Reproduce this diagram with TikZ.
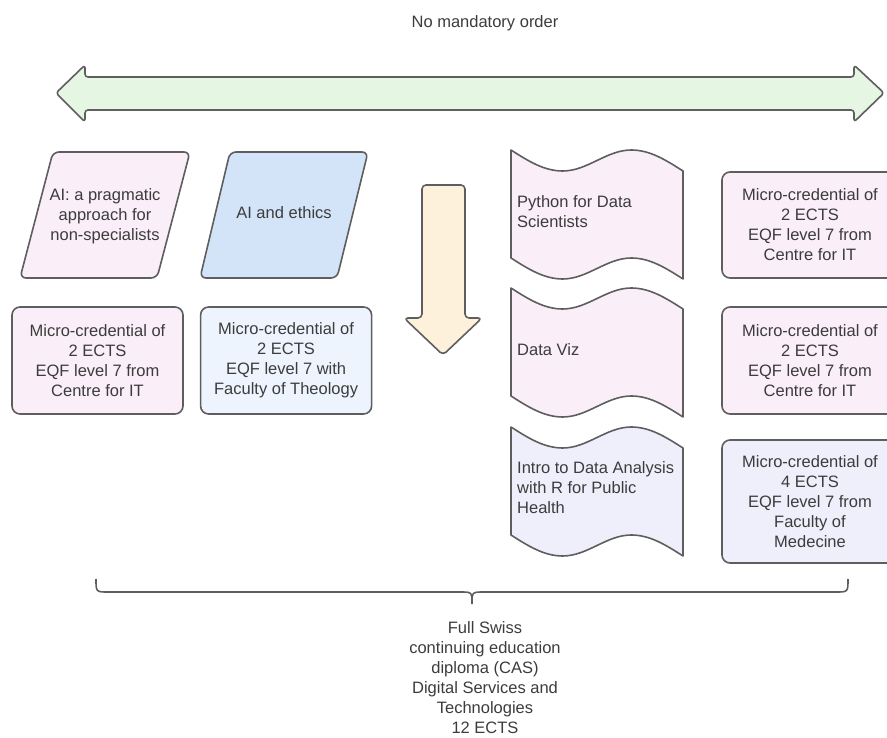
\documentclass[tikz,border=0pt]{standalone}
\usepackage{fontspec}
\setmainfont{Liberation Sans}
\usepackage{xcolor}
\usetikzlibrary{positioning}

\definecolor{linegray}{HTML}{5E5E5E}
\definecolor{txtgray}{HTML}{3C3C3C}
\definecolor{pinkfill}{HTML}{FAEEF8}
\definecolor{ethicsfill}{HTML}{D3E4F9}
\definecolor{ethicsbox}{HTML}{EEF4FE}
\definecolor{lavfill}{HTML}{EFEFFC}
\definecolor{greenfill}{HTML}{E5F6E2}
\definecolor{creamfill}{HTML}{FDF1DB}

\begin{document}
\begin{tikzpicture}[
  x=1pt, y=-1pt,
  every node/.style={font=\fontsize{16.5}{20}\selectfont, text=txtgray},
  shapeline/.style={draw=linegray, line width=1.6pt, line join=round},
  credbox/.style={shapeline, rectangle, rounded corners=8pt,
    minimum width=171pt, minimum height=107pt, align=center, inner sep=0pt},
  doctext/.style={anchor=west, align=left, inner sep=0pt},
]
\useasboundingbox (0,0) rectangle (887,738);

% Header and order arrow
\node (title) at (485,23) {No mandatory order};
\draw[shapeline, fill=greenfill, rounded corners=3pt]
  (56,93) -- (85,65) -- (85,77) -- (854,77) -- (854,65) -- (884,93)
  -- (854,122) -- (854,110) -- (85,110) -- (85,122) -- cycle;

% AI courses
\draw[shapeline, fill=pinkfill, rounded corners=6pt]
  (53,152) -- (190,152) -- (157,278) -- (20,278) -- cycle;
\node[align=center] (pragmatic) at (105,216) {AI: a pragmatic\\approach for\\non-specialists};
\draw[shapeline, fill=ethicsfill, rounded corners=6pt]
  (230,152) -- (368,152) -- (337,278) -- (200,278) -- cycle;
\node (ethics) at (284,213) {AI and ethics};

\node[credbox, fill=pinkfill] (credai) at (97.5,360.5)
  {Micro-credential of\\2 ECTS\\EQF level 7 from\\Centre for IT};
\node[credbox, fill=ethicsbox, right=16pt of credai] (credeth)
  {Micro-credential of\\2 ECTS\\EQF level 7 with\\Faculty of Theology};

% Down arrow
\draw[shapeline, fill=creamfill, rounded corners=4pt]
  (422,185) -- (465,185) -- (465,318) -- (482,318) -- (443,355)
  -- (404,318) -- (422,318) -- cycle;

% Data courses
\foreach \T/\c in {150/pinkfill, 288/pinkfill, 427/lavfill}
  \draw[shapeline, fill=\c] (511,\T) sin (562.6,\T+21) cos (597,\T+10.5)
    sin (631.4,\T) cos (683,\T+21) -- (683,\T+129) sin (631.4,\T+108)
    cos (597,\T+118.5) sin (562.6,\T+129) cos (511,\T+108) -- cycle;

\node[doctext] (python) at (517,212) {Python for Data\\Scientists};
\node[doctext] (dataviz) at (517,350) {Data Viz};
\node[doctext] (intro) at (517,488) {Intro to Data Analysis\\with R for Public\\Health};

\node[credbox, fill=pinkfill, minimum width=176pt, minimum height=106pt] (credpy) at (810,225)
  {Micro-credential of\\2 ECTS\\EQF level 7 from\\Centre for IT};
\node[credbox, fill=pinkfill, minimum width=176pt] (credviz) at (810,360.5)
  {Micro-credential of\\2 ECTS\\EQF level 7 from\\Centre for IT};
\node[credbox, fill=lavfill, minimum width=176pt, minimum height=123pt] (credr) at (810,501.5)
  {Micro-credential of\\4 ECTS\\EQF level 7 from\\Faculty of\\Medecine};

% Brace and diploma
\coordinate (bracel) at (96,579);
\coordinate (bracer) at (848,579);
\coordinate (bracetip) at (472,604);
\draw[linegray, line width=1.6pt]
  (bracel) .. controls (96,592) .. (108,592) -- (460,592)
  .. controls (472,592) .. (bracetip) .. controls (472,592) .. (484,592)
  -- (836,592) .. controls (848,592) .. (bracer);
\node[align=center] (cas) at (485,678)
  {Full Swiss\\continuing education\\diploma (CAS)\\Digital Services and\\Technologies\\12 ECTS};

\end{tikzpicture}
\end{document}
